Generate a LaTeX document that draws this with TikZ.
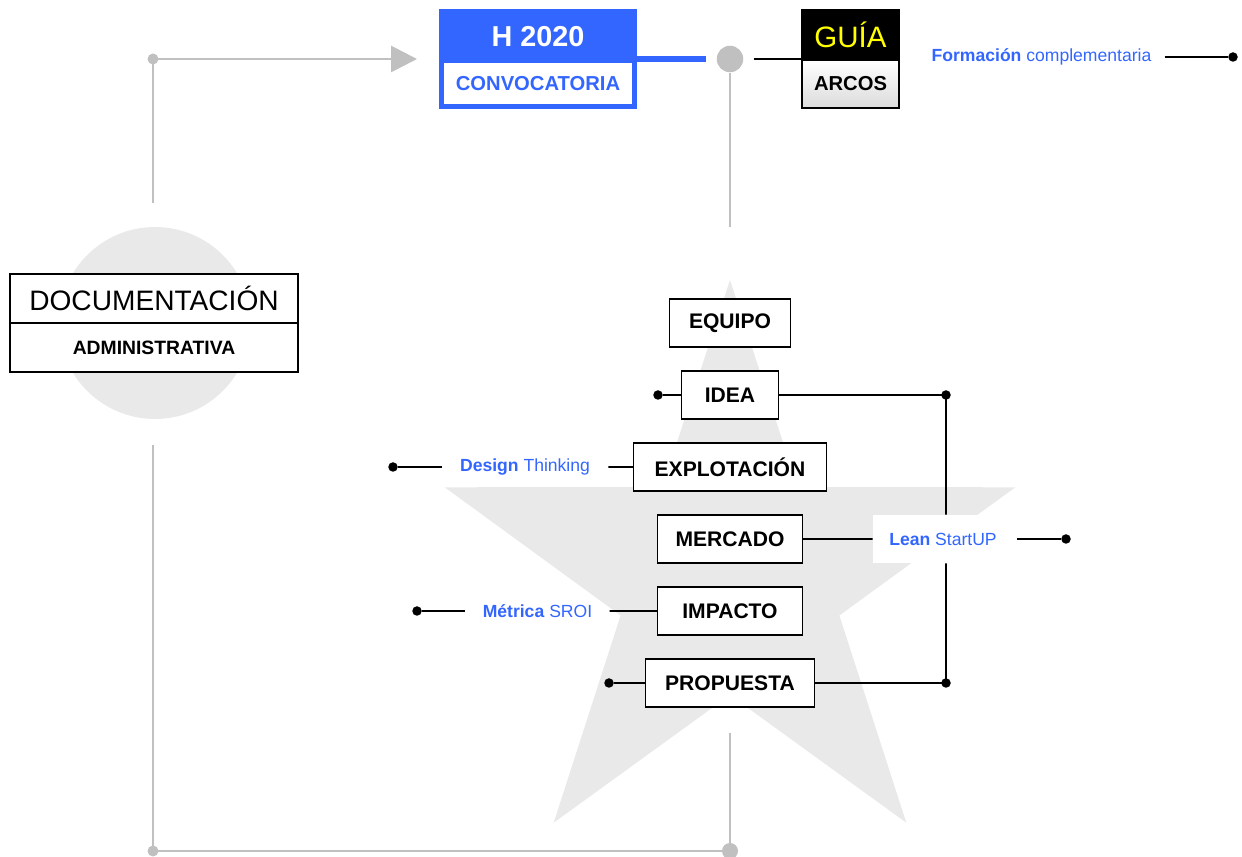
\documentclass[tikz,border=0pt]{standalone}
\usepackage{fontspec}
\setmainfont{Liberation Sans}
\definecolor{hBlue}{RGB}{51, 102, 255}
\definecolor{trackGray}{RGB}{192, 192, 192}
\definecolor{starGray}{RGB}{233, 233, 233}
\definecolor{guiaYellow}{RGB}{255, 255, 0}
\usetikzlibrary{shapes.geometric, arrows.meta, positioning, calc}

\begin{document}
\begin{tikzpicture}[x=0.02cm, y=-0.02cm,
    stage/.style={draw, line width=1pt, fill=white, minimum height=0.96cm,
                  inner sep=0pt, outer sep=0pt, font=\fontsize{12}{14}\selectfont\bfseries},
    tool/.style={text=hBlue, font=\fontsize{10}{12}\selectfont, inner ysep=2pt},
    wire/.style={line width=1pt},
    track/.style={line width=1.6pt, trackGray},
    dot/.style={circle, fill=black, inner sep=0pt, minimum size=0.19cm},
    gdot/.style={circle, fill=trackGray, inner sep=0pt, minimum size=0.22cm}
  ]
    \useasboundingbox (0,0) rectangle (1242,857);

    \fill[starGray] (730,280) -- (797.6,487) -- (1015.3,487.3) -- (839.4,615.5) -- (906.3,822.7)
      -- (730,695) -- (553.7,822.7) -- (620.6,615.5) -- (444.7,487.3) -- (662.4,487) -- cycle;
    \fill[starGray] (155,323) circle[radius=1.92cm];

    \node[draw, line width=1pt, fill=white, minimum width=5.76cm, minimum height=0.98cm,
          inner sep=0pt, outer sep=0pt, font=\fontsize{16}{18}\selectfont] (doc) at (154,298.5) {DOCUMENTACIÓN};
    \node[draw, line width=1pt, fill=white, minimum width=5.76cm, minimum height=0.98cm,
          inner sep=0pt, outer sep=0pt, font=\fontsize{11}{13}\selectfont\bfseries,
          below=0pt of doc] (admin) {ADMINISTRATIVA};

    \node[draw=hBlue, fill=hBlue, line width=0.1cm, minimum width=3.86cm, minimum height=0.99cm,
          inner sep=0pt, outer sep=0pt, text=white, font=\fontsize{16.4}{18}\selectfont\bfseries] (h2020) at (538,36.25) {H 2020};
    \node[draw=hBlue, fill=white, line width=0.1cm, minimum width=3.86cm, minimum height=0.91cm,
          inner sep=0pt, outer sep=0pt, text=hBlue, font=\fontsize{11.5}{13}\selectfont\bfseries,
          below=0pt of h2020] (conv) {CONVOCATORIA};

    \node[circle, fill=trackGray, inner sep=0pt, minimum size=0.53cm] (hub) at (730,59) {};

    \node[draw, fill=black, line width=1pt, minimum width=1.94cm, minimum height=1cm,
          inner sep=0pt, outer sep=0pt, text=guiaYellow, font=\fontsize{16.8}{18}\selectfont] (guia) at (850.5,35) {GUÍA};
    \node[draw, top color=white, bottom color=black!14, line width=1pt, minimum width=1.94cm,
          minimum height=0.96cm, inner sep=0pt, outer sep=0pt, font=\fontsize{11.5}{13}\selectfont\bfseries,
          below=0pt of guia] (arcos) {ARCOS};

    \node[tool, inner xsep=0.26cm] (formacion) at (1041.5,57) {\textbf{Formación} complementaria};
    \node[dot] (formR) at (1233,57) {};
    \draw[wire] (formacion) -- (formR);

    \node[gdot] (tldot) at (153,59) {};
    \coordinate (lt) at (153,203);
    \draw[track, -{Triangle[length=0.52cm, width=0.52cm]}, shorten >=0.49cm]
      (lt) -- (tldot.center) -- (h2020.south west |- tldot);
    \draw[hBlue, line width=0.11cm, shorten >=0.2cm] (h2020.south east |- hub) -- (hub);
    \draw[wire, shorten <=0.2cm] (hub) -- (guia.south west |- hub);
    \coordinate (hubend) at (730,227);
    \draw[track] (hub) -- (hubend);

    \coordinate (lb) at (153,445);
    \coordinate (rb) at (730,733);
    \node[gdot] (bldot) at (153,851) {};
    \node[gdot, minimum size=0.32cm] (brdot) at (730,851) {};
    \draw[track] (lb) -- (bldot.center) -- (brdot.center) -- (rb);

    \node[stage, minimum width=2.42cm] (equipo) at (730,323) {EQUIPO};
    \node[stage, minimum width=1.94cm, below=0.48cm of equipo] (idea) {IDEA};
    \node[stage, minimum width=3.86cm, below=0.48cm of idea] (explot) {EXPLOTACIÓN};
    \node[stage, minimum width=2.9cm, below=0.48cm of explot] (mercado) {MERCADO};
    \node[stage, minimum width=2.9cm, below=0.48cm of mercado] (impacto) {IMPACTO};
    \node[stage, minimum width=3.38cm, below=0.48cm of impacto] (propuesta) {PROPUESTA};

    \node[tool, fill=white, minimum width=2.8cm, minimum height=0.96cm, inner sep=0pt] (lean) at (943,539)
      {\textbf{Lean} StartUP};
    \node[tool, inner xsep=0.36cm] (design) at (525,467) {\textbf{Design} Thinking};
    \node[tool, inner xsep=0.34cm] (metrica) at (537.5,611) {\textbf{Métrica} SROI};

    \node[dot] (ideaL) at (658,395) {};
    \node[dot] (ideaR) at (946,395) {};
    \node[dot] (propL) at (609,683) {};
    \node[dot] (propR) at (946,683) {};
    \node[dot] (designL) at (393,467) {};
    \node[dot] (metricaL) at (417,611) {};
    \node[dot] (leanR) at (1066,539) {};

    \draw[wire] (ideaL) -- (idea);
    \draw[wire] (idea) -- (ideaR.center) -- (ideaR |- lean.north);
    \draw[wire] (ideaR |- lean.south) -- (propR.center) -- (propuesta);
    \draw[wire] (propL) -- (propuesta);
    \draw[wire] (mercado) -- (lean);
    \draw[wire, shorten <=0.08cm] (lean) -- (leanR);
    \draw[wire] (designL) -- (design);
    \draw[wire] (design) -- (explot);
    \draw[wire] (metricaL) -- (metrica);
    \draw[wire] (metrica) -- (impacto);
  \end{tikzpicture}
\end{document}
